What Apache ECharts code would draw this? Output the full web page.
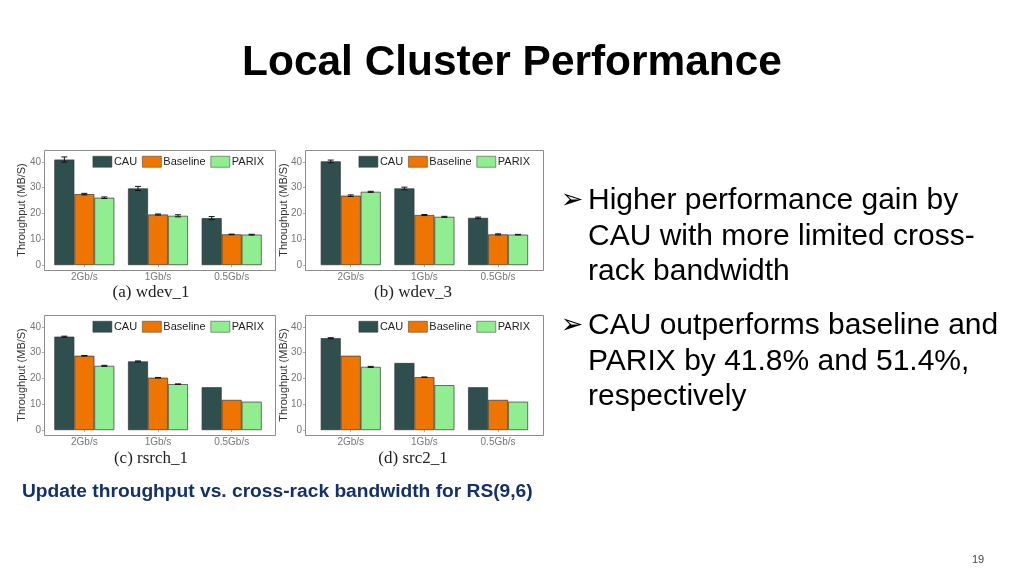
<!DOCTYPE html>
<html>
<head>
<meta charset="utf-8">
<script src="https://cdn.jsdelivr.net/npm/echarts@6/dist/echarts.min.js"></script>
<style>html,body{margin:0;padding:0;background:#fff;}#c{width:1024px;height:576px;}</style>
</head>
<body>
<div id="c"></div>
<script>
// ---- data ----
const categories = ['2Gb/s', '1Gb/s', '0.5Gb/s'];
const seriesNames = ['CAU', 'Baseline', 'PARIX'];
const panelTitles = ['(a) wdev_1', '(b) wdev_3', '(c) rsrch_1', '(d) src2_1'];
const yTicks = [0, 10, 20, 30, 40];

const wdev1CAU = [40.9, 29.7, 18.2];
const wdev1Baseline = [27.5, 19.6, 11.9];
const wdev1PARIX = [26.1, 19.1, 11.8];
const wdev1CAUErr = [1.0, 0.8, 0.6];
const wdev1BaselineErr = [0.3, 0.2, 0.1];
const wdev1PARIXErr = [0.3, 0.4, 0.15];

const wdev3CAU = [40.2, 29.7, 18.3];
const wdev3Baseline = [26.9, 19.4, 11.9];
const wdev3PARIX = [28.4, 18.7, 11.8];
const wdev3CAUErr = [0.5, 0.5, 0.3];
const wdev3BaselineErr = [0.3, 0.2, 0.2];
const wdev3PARIXErr = [0.2, 0.2, 0.1];

const rsrch1CAU = [36.2, 26.6, 16.6];
const rsrch1Baseline = [28.8, 20.3, 11.7];
const rsrch1PARIX = [24.9, 17.8, 11.0];
const rsrch1CAUErr = [0.2, 0.2, 0];
const rsrch1BaselineErr = [0.1, 0.1, 0];
const rsrch1PARIXErr = [0.2, 0.1, 0];

const src21CAU = [35.6, 26.0, 16.6];
const src21Baseline = [28.8, 20.5, 11.7];
const src21PARIX = [24.5, 17.4, 11.0];
const src21CAUErr = [0.2, 0, 0];
const src21BaselineErr = [0, 0.1, 0];
const src21PARIXErr = [0.2, 0, 0];

const panelValues = [
  [wdev1CAU, wdev1Baseline, wdev1PARIX],
  [wdev3CAU, wdev3Baseline, wdev3PARIX],
  [rsrch1CAU, rsrch1Baseline, rsrch1PARIX],
  [src21CAU, src21Baseline, src21PARIX]
];
const panelErrors = [
  [wdev1CAUErr, wdev1BaselineErr, wdev1PARIXErr],
  [wdev3CAUErr, wdev3BaselineErr, wdev3PARIXErr],
  [rsrch1CAUErr, rsrch1BaselineErr, rsrch1PARIXErr],
  [src21CAUErr, src21BaselineErr, src21PARIXErr]
];

const bulletLines1 = ['Higher performance gain by', 'CAU with more limited cross-', 'rack bandwidth'];
const bulletLines2 = ['CAU outperforms baseline and', 'PARIX by 41.8% and 51.4%,', 'respectively'];

// ---- layout / style ----
const colors = ['#2f4f4f', '#ee7600', '#90ee90'];
const panels = [
  { boxL: 44, boxR: 275, boxT: 150, boxB: 270, gL: 47.5, gR: 268.5, legRight: 760, nameGap: 17, capX: 151, capY: 293 },
  { boxL: 305, boxR: 543, boxT: 150, boxB: 270, gL: 313.9, gR: 534.9, legRight: 494, nameGap: 16, capX: 413, capY: 293 },
  { boxL: 44, boxR: 275, boxT: 315, boxB: 435, gL: 47.5, gR: 268.5, legRight: 760, nameGap: 17, capX: 151, capY: 459 },
  { boxL: 305, boxR: 543, boxT: 315, boxB: 435, gL: 313.9, gR: 534.9, legRight: 494, nameGap: 16, capX: 413, capY: 459 }
];
const catGap = 0.186;

const chart = echarts.init(document.getElementById('c'), null, { renderer: 'canvas' });

const grid = [], xAxis = [], yAxis = [], series = [], legend = [], graphic = [];

panels.forEach((p, i) => {
  grid.push({ left: p.gL, top: p.boxT, width: p.gR - p.gL, height: p.boxB - p.boxT, containLabel: false });
  xAxis.push({
    type: 'category', gridIndex: i, data: categories,
    axisLine: { show: false },
    axisTick: { show: true, alignWithLabel: true, length: 2, lineStyle: { color: '#aaa' } },
    axisLabel: { color: '#777', fontSize: 10, margin: 2, fontFamily: 'Liberation Sans' }
  });
  yAxis.push({
    type: 'value', gridIndex: i, min: -1.9, max: 44.6,
    offset: p.gL - p.boxL,
    axisLine: { show: false },
    splitLine: { show: false },
    axisTick: { show: true, length: 2, customValues: yTicks, lineStyle: { color: '#aaa' } },
    axisLabel: { color: '#777', fontSize: 10, margin: 3, customValues: yTicks, fontFamily: 'Liberation Sans' },
    name: 'Throughput (MB/S)', nameLocation: 'middle', nameGap: p.nameGap, nameMoveOverlap: false,
    nameTextStyle: { color: '#333', fontSize: 11, fontFamily: 'Liberation Sans' }
  });
  seriesNames.forEach((name, s) => {
    series.push({
      type: 'bar', name: name, xAxisIndex: i, yAxisIndex: i,
      data: panelValues[i][s],
      barGap: '0%', barCategoryGap: (catGap * 100) + '%',
      itemStyle: { color: colors[s], borderColor: '#333', borderWidth: 0.7 },
      emphasis: { disabled: true },
      silent: true
    });
  });
  const errData = [];
  seriesNames.forEach((name, s) => {
    categories.forEach((c, k) => {
      const e = panelErrors[i][s][k];
      if (e > 0) errData.push([k, panelValues[i][s][k], e, s]);
    });
  });
  series.push({
    type: 'custom', xAxisIndex: i, yAxisIndex: i, z: 5, silent: true,
    data: errData,
    encode: { x: 0, y: 1 },
    renderItem: function (params, api) {
      const k = api.value(0), v = api.value(1), e = api.value(2), s = api.value(3);
      const band = api.size([1, 0])[0];
      const bw = band * (1 - catGap) / 3;
      const cx = api.coord([k, v])[0] + (s - 1) * bw;
      const yTop = api.coord([k, v + e])[1];
      const yBot = api.coord([k, v - e])[1];
      const cap = 3;
      const st = { stroke: '#111', lineWidth: 1 };
      return {
        type: 'group',
        children: [
          { type: 'line', shape: { x1: cx, y1: yTop, x2: cx, y2: yBot }, style: st },
          { type: 'line', shape: { x1: cx - cap, y1: yTop, x2: cx + cap, y2: yTop }, style: st },
          { type: 'line', shape: { x1: cx - cap, y1: yBot, x2: cx + cap, y2: yBot }, style: st }
        ]
      };
    }
  });
  legend.push({
    data: seriesNames, right: p.legRight, top: p.boxT + 6, orient: 'horizontal',
    itemWidth: 19, itemHeight: 11, itemGap: 5, padding: 0, icon: 'rect',
    selectedMode: false,
    itemStyle: { borderWidth: 0.5 },
    textStyle: { color: '#222', fontSize: 11, fontFamily: 'Liberation Sans', padding: [0, 0, 0, -3] }
  });
  graphic.push({
    type: 'rect', silent: true, z: 10,
    shape: { x: p.boxL + 0.5, y: p.boxT + 0.5, width: p.boxR - p.boxL, height: p.boxB - p.boxT },
    style: { fill: 'none', stroke: '#8c8c8c', lineWidth: 1 }
  });
  graphic.push({
    type: 'text', silent: true,
    x: p.capX, y: p.capY,
    style: { text: panelTitles[i], fill: '#222', font: '17px "Liberation Serif"', textAlign: 'center', textVerticalAlign: 'middle' }
  });
});

// slide texts
graphic.push({
  type: 'text', silent: true, x: 512, y: 63, scaleX: 1.01,
  style: {
    text: 'Local Cluster Performance', fill: '#000',
    font: 'bold 42px "Liberation Sans"', textAlign: 'center', textVerticalAlign: 'middle',
    shadowColor: 'rgba(0,0,0,0.35)', shadowOffsetX: 2, shadowOffsetY: 2, shadowBlur: 2
  }
});
[[bulletLines1, 201], [bulletLines2, 326]].forEach(([lines, y0]) => {
  graphic.push({
    type: 'text', silent: true, x: 572, y: y0,
    style: { text: '\u27a2', fill: '#000', font: '27px "DejaVu Sans"', textAlign: 'center', textVerticalAlign: 'middle' }
  });
  lines.forEach((ln, j) => {
    graphic.push({
      type: 'text', silent: true, x: 588, y: y0 + j * 35.5,
      style: { text: ln, fill: '#000', font: '30px "Liberation Sans"', textAlign: 'left', textVerticalAlign: 'middle' }
    });
  });
});
graphic.push({
  type: 'text', silent: true, x: 22, y: 492,
  style: { text: 'Update throughput vs. cross-rack bandwidth for RS(9,6)', fill: '#13306a', font: 'bold 19.2px "Liberation Sans"', textAlign: 'left', textVerticalAlign: 'middle' }
});
graphic.push({
  type: 'text', silent: true, x: 978, y: 560,
  style: { text: '19', fill: '#444', font: '11px "Liberation Sans"', textAlign: 'center', textVerticalAlign: 'middle' }
});

chart.setOption({
  animation: false,
  backgroundColor: '#fff',
  grid: grid, xAxis: xAxis, yAxis: yAxis, series: series, legend: legend, graphic: graphic
});
</script>
</body>
</html>
